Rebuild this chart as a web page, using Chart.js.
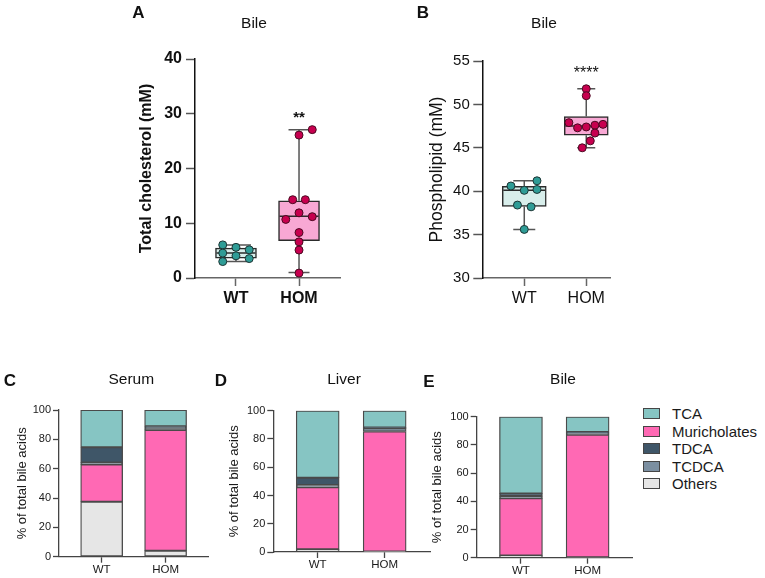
<!DOCTYPE html>
<html>
<head>
<meta charset="utf-8">
<script src="https://cdn.jsdelivr.net/npm/chart.js@4/dist/chart.umd.min.js"></script>
<style>
  body { margin: 0; background: #fff; }
  #figure { position: relative; width: 765px; height: 578px; overflow: hidden; background: #fff; }
  #figure canvas { position: absolute; }
  #legend { position: absolute; left: 643px; top: 405px; font: 15px 'Liberation Sans', Arial, sans-serif; color: #1a1a1a; }
  .legend-row { display: flex; align-items: center; height: 17.5px; }
  .legend-box { width: 15px; height: 9px; border: 1.5px solid #454545; margin-right: 12px; }
</style>
</head>
<body>
<div id="figure">
  <canvas id="chartA" width="250" height="330" style="left:100px;top:0px"></canvas>
  <canvas id="chartB" width="250" height="330" style="left:380px;top:0px"></canvas>
  <canvas id="chartC" width="215" height="238" style="left:0px;top:340px"></canvas>
  <canvas id="chartD" width="230" height="238" style="left:210px;top:340px"></canvas>
  <canvas id="chartE" width="220" height="238" style="left:420px;top:340px"></canvas>
  <div id="legend"></div>
</div>
<script>
const FONT = "'Liberation Sans', Arial, Helvetica, sans-serif";

const groups = ['WT', 'HOM'];

// A - bile total cholesterol (mM), one value per mouse
const cholesterolWT = [6.05, 5.6, 5.15, 4.55, 4.05, 3.55, 3.0];
const cholesterolHOM = [27.1, 26.1, 14.3, 14.3, 11.9, 10.7, 11.2, 8.3, 6.6, 5.1, 0.9];
// min, q1, median, q3, max
const cholesterolWTBox = [3.0, 3.6, 4.55, 5.45, 6.05];
const cholesterolHOMBox = [1.0, 6.8, 11.3, 14.1, 27.1];

// B - bile phospholipid (mM)
const phospholipidWT = [40.6, 41.2, 40.1, 40.2, 38.4, 38.2, 35.6];
const phospholipidHOM = [51.8, 51.0, 47.9, 47.3, 47.4, 47.6, 47.7, 46.7, 45.8, 45.0];
const phospholipidWTBox = [35.6, 38.25, 40.1, 40.55, 41.2];
const phospholipidHOMBox = [45.0, 46.45, 47.5, 48.6, 51.8];

// C-E - % of total bile acids, [WT, HOM] per species
const acids = ['TCA', 'Muricholates', 'TDCA', 'TCDCA', 'Others'];
const serumTCA = [25.4, 11.1];
const serumMuricholates = [25.3, 82.3];
const serumTDCA = [10.3, 1.2];
const serumTCDCA = [1.5, 1.3];
const serumOthers = [37.5, 4.1];

const liverTCA = [47.4, 11.8];
const liverMuricholates = [43.9, 85.0];
const liverTDCA = [5.2, 0.7];
const liverTCDCA = [1.6, 2.2];
const liverOthers = [1.9, 0.3];

const bileTCA = [54.4, 10.9];
const bileMuricholates = [40.6, 86.9];
const bileTDCA = [1.9, 0.7];
const bileTCDCA = [1.6, 1.2];
const bileOthers = [1.5, 0.3];

// horizontal scatter of the dots (x units), layout only
const cholesterolWTJitter = [-0.21, 0, 0.21, -0.21, 0, 0.21, -0.21];
const cholesterolHOMJitter = [0.21, 0, -0.1, 0.1, 0, -0.21, 0.21, 0, 0, 0, 0];
const phospholipidWTJitter = [-0.215, 0.205, 0, 0.205, -0.11, 0.11, 0];
const phospholipidHOMJitter = [0, 0, -0.28, -0.14, 0, 0.14, 0.27, 0.14, 0.065, -0.065];

const acidColors = {
    TCA: '#86c5c3',
    Muricholates: '#ff69b4',
    TDCA: '#3f5668',
    TCDCA: '#7b8fa1',
    Others: '#e6e6e6'
};
// bottom to top inside each bar
const stackOrder = ['Others', 'Muricholates', 'TCDCA', 'TDCA', 'TCA'];

Chart.defaults.font.family = FONT;
Chart.defaults.color = '#1a1a1a';
Chart.defaults.animation = false;
Chart.defaults.events = [];
Chart.defaults.plugins.legend.display = false;
Chart.defaults.plugins.tooltip.enabled = false;

const panelText = {
    id: 'panelText',
    afterDraw(chart, args, opts) {
        const ctx = chart.ctx;
        ctx.save();
        ctx.textAlign = 'center';
        ctx.textBaseline = 'middle';
        ctx.fillStyle = '#111';
        if (opts.letter) {
            ctx.font = 'bold 17px ' + FONT;
            ctx.fillText(opts.letter, opts.letterX, opts.letterY);
        }
        if (opts.title) {
            ctx.font = '15.5px ' + FONT;
            ctx.fillText(opts.title, opts.titleX, opts.titleY);
        }
        if (opts.stars) {
            ctx.font = opts.starsFont;
            ctx.fillText(opts.stars,
                chart.scales.x.getPixelForValue(opts.starsX),
                chart.scales.y.getPixelForValue(opts.starsY));
        }
        ctx.restore();
    }
};

// whiskers and median line, drawn right after the box dataset (under the dots)
const boxWhiskers = {
    id: 'boxWhiskers',
    afterDatasetDraw(chart, args, opts) {
        if (args.index !== 0 || !opts.boxes) return;
        const xs = chart.scales.x;
        const ys = chart.scales.y;
        const ctx = chart.ctx;
        ctx.save();
        ctx.lineWidth = 1.5;
        opts.boxes.forEach(b => {
            const s = b.stats;
            const cx = xs.getPixelForValue(b.x);
            const yMin = ys.getPixelForValue(s[0]);
            const yQ1 = ys.getPixelForValue(s[1]);
            const yMed = ys.getPixelForValue(s[2]);
            const yQ3 = ys.getPixelForValue(s[3]);
            const yMax = ys.getPixelForValue(s[4]);
            const cap = b.capWidth / 2;
            const half = b.boxWidth / 2;
            ctx.strokeStyle = opts.whiskerColor;
            ctx.beginPath();
            ctx.moveTo(cx, yMax); ctx.lineTo(cx, yQ3);
            ctx.moveTo(cx, yQ1); ctx.lineTo(cx, yMin);
            ctx.moveTo(cx - cap, yMax); ctx.lineTo(cx + cap, yMax);
            ctx.moveTo(cx - cap, yMin); ctx.lineTo(cx + cap, yMin);
            ctx.stroke();
            ctx.strokeStyle = opts.medianColor;
            ctx.beginPath();
            ctx.moveTo(cx - half + 1, yMed); ctx.lineTo(cx + half - 1, yMed);
            ctx.stroke();
        });
        ctx.restore();
    }
};

function xTicksAt(positions) {
    return function(scale) {
        scale.ticks = positions.map(v => ({ value: v }));
    };
}

function makeBoxPanel(id, p) {
    const boxes = [
        { x: p.pos[0], stats: p.wtBox, boxWidth: p.boxWidth, capWidth: p.capWidth[0] },
        { x: p.pos[1], stats: p.homBox, boxWidth: p.boxWidth, capWidth: p.capWidth[1] }
    ];
    return new Chart(document.getElementById(id), {
        type: 'bar',
        data: {
            datasets: [
                {
                    data: boxes.map(b => ({ x: b.x, y: [b.stats[1], b.stats[3]] })),
                    backgroundColor: ['#d8eeeb', '#f8a8d4'],
                    borderColor: '#2b2b2b',
                    borderWidth: 1.5,
                    borderSkipped: false,
                    barThickness: p.boxWidth,
                    maxBarThickness: p.boxWidth,
                    grouped: false,
                    order: 1
                },
                {
                    type: 'scatter',
                    data: p.wt.map((v, i) => ({ x: p.pos[0] + p.wtJitter[i], y: v })),
                    pointRadius: 4,
                    pointBackgroundColor: '#2f9c96',
                    pointBorderColor: '#1d3534',
                    pointBorderWidth: 1,
                    order: 0
                },
                {
                    type: 'scatter',
                    data: p.hom.map((v, i) => ({ x: p.pos[1] + p.homJitter[i], y: v })),
                    pointRadius: 4,
                    pointBackgroundColor: '#c7004f',
                    pointBorderColor: '#4a0a22',
                    pointBorderWidth: 1,
                    order: 0
                }
            ]
        },
        options: {
            responsive: false,
            layout: { padding: p.padding },
            scales: {
                x: {
                    type: 'linear',
                    min: 0,
                    max: p.xMax,
                    offset: false,
                    afterBuildTicks: xTicksAt(p.pos),
                    afterFit: s => { s.height = p.xAxisHeight; },
                    ticks: {
                        callback: (v, i) => groups[i],
                        font: p.xFont,
                        color: '#111',
                        padding: 3,
                        autoSkip: false,
                        maxRotation: 0
                    },
                    grid: { drawOnChartArea: false, offset: false, tickLength: 8, color: '#666', tickWidth: 1.5 },
                    border: { color: '#666', width: 1.5 }
                },
                y: {
                    min: p.yMin,
                    max: p.yMax,
                    afterFit: s => { s.width = p.yAxisWidth; },
                    ticks: { stepSize: p.yStep, font: p.yFont, color: '#111', padding: p.yTickPad },
                    grid: { drawOnChartArea: false, tickLength: 9, color: '#555', tickWidth: 1.5 },
                    border: { color: '#111', width: 1.5 },
                    title: {
                        display: true,
                        text: p.yTitle,
                        font: p.yTitleFont,
                        color: '#111',
                        padding: { top: p.yTitlePad, bottom: 0 }
                    }
                }
            },
            plugins: {
                boxWhiskers: { boxes: boxes, whiskerColor: '#555', medianColor: '#2b2b2b' },
                panelText: p.text
            }
        },
        plugins: [boxWhiskers, panelText]
    });
}

function makeStackPanel(id, p) {
    return new Chart(document.getElementById(id), {
        type: 'bar',
        data: {
            datasets: stackOrder.map(name => ({
                label: name,
                data: [
                    { x: p.pos[0], y: p.values[name][0] },
                    { x: p.pos[1], y: p.values[name][1] }
                ],
                backgroundColor: acidColors[name],
                borderColor: '#4a4a4a',
                borderWidth: 1.3,
                borderSkipped: false,
                barThickness: p.barWidth,
                maxBarThickness: p.barWidth,
                grouped: false
            }))
        },
        options: {
            responsive: false,
            layout: { padding: p.padding },
            scales: {
                x: {
                    type: 'linear',
                    min: 0,
                    max: p.xMax,
                    offset: false,
                    afterBuildTicks: xTicksAt(p.pos),
                    afterFit: s => { s.height = p.xAxisHeight; },
                    ticks: {
                        callback: (v, i) => groups[i],
                        font: { size: 11.5 },
                        color: '#1a1a1a',
                        padding: 0,
                        autoSkip: false,
                        maxRotation: 0
                    },
                    grid: { drawOnChartArea: false, offset: false, tickLength: 6, color: '#444', tickWidth: 1.3 },
                    border: { color: '#444', width: 1.3 }
                },
                y: {
                    stacked: true,
                    min: 0,
                    max: 100,
                    afterFit: s => { s.width = p.yAxisWidth; },
                    ticks: { stepSize: 20, font: { size: 11 }, color: '#1a1a1a', padding: 2 },
                    grid: { drawOnChartArea: false, tickLength: 6, color: '#444', tickWidth: 1.3 },
                    border: { color: '#444', width: 1.3 },
                    title: {
                        display: true,
                        text: '% of total bile acids',
                        font: { size: 13 },
                        color: '#1a1a1a',
                        padding: { top: p.yTitlePad, bottom: 0 }
                    }
                }
            },
            plugins: { panelText: p.text }
        },
        plugins: [panelText]
    });
}

function buildLegend() {
    const legend = document.getElementById('legend');
    acids.forEach(name => {
        const row = document.createElement('div');
        row.className = 'legend-row';
        const box = document.createElement('span');
        box.className = 'legend-box';
        box.style.background = acidColors[name];
        const label = document.createElement('span');
        label.textContent = name;
        row.appendChild(box);
        row.appendChild(label);
        legend.appendChild(row);
    });
}

makeBoxPanel('chartA', {
    wt: cholesterolWT, hom: cholesterolHOM,
    wtBox: cholesterolWTBox, homBox: cholesterolHOMBox,
    wtJitter: cholesterolWTJitter, homJitter: cholesterolHOMJitter,
    pos: [0.65, 1.65], xMax: 2.30,
    padding: { top: 59, right: 10, left: 0, bottom: 0 },
    yAxisWidth: 95, xAxisHeight: 52,
    yMin: 0, yMax: 40, yStep: 10, yTickPad: 4,
    yFont: { size: 16, weight: 'bold' },
    xFont: { size: 16, weight: 'bold' },
    yTitle: 'Total cholesterol (mM)',
    yTitleFont: { size: 16, weight: 'bold' },
    yTitlePad: 37.4,
    boxWidth: 41, capWidth: [30, 21],
    text: {
        letter: 'A', letterX: 38.5, letterY: 13,
        title: 'Bile', titleX: 154, titleY: 24,
        stars: '**', starsFont: 'bold 15px ' + FONT, starsX: 1.65, starsY: 29.2
    }
});

makeBoxPanel('chartB', {
    wt: phospholipidWT, hom: phospholipidHOM,
    wtBox: phospholipidWTBox, homBox: phospholipidHOMBox,
    wtJitter: phospholipidWTJitter, homJitter: phospholipidHOMJitter,
    pos: [0.677, 1.677], xMax: 2.06,
    padding: { top: 61, right: 20, left: 0, bottom: 0 },
    yAxisWidth: 102.3, xAxisHeight: 52,
    yMin: 30, yMax: 55, yStep: 5, yTickPad: 3.5,
    yFont: { size: 15 },
    xFont: { size: 16 },
    yTitle: 'Phospholipid (mM)',
    yTitleFont: { size: 17.5 },
    yTitlePad: 46.5,
    boxWidth: 44, capWidth: [22, 18],
    text: {
        letter: 'B', letterX: 43, letterY: 13,
        title: 'Bile', titleX: 164, titleY: 24,
        stars: '****', starsFont: '16px ' + FONT, starsX: 1.677, starsY: 53.55
    }
});

makeStackPanel('chartC', {
    values: { TCA: serumTCA, Muricholates: serumMuricholates, TDCA: serumTDCA, TCDCA: serumTCDCA, Others: serumOthers },
    pos: [0.667, 1.667], xMax: 2.33, barWidth: 42,
    padding: { top: 70, right: 7, left: 0, bottom: 0 },
    yAxisWidth: 59, xAxisHeight: 21.3, yTitlePad: 14.2,
    text: { letter: 'C', letterX: 10, letterY: 41, title: 'Serum', titleX: 131.3, titleY: 40 }
});

makeStackPanel('chartD', {
    values: { TCA: liverTCA, Muricholates: liverMuricholates, TDCA: liverTDCA, TCDCA: liverTCDCA, Others: liverOthers },
    pos: [0.663, 1.663], xMax: 2.34, barWidth: 43,
    padding: { top: 70.7, right: 10, left: 0, bottom: 0 },
    yAxisWidth: 63.3, xAxisHeight: 26, yTitlePad: 16.2,
    text: { letter: 'D', letterX: 11, letterY: 41.7, title: 'Liver', titleX: 134, titleY: 40 }
});

makeStackPanel('chartE', {
    values: { TCA: bileTCA, Muricholates: bileMuricholates, TDCA: bileTDCA, TCDCA: bileTCDCA, Others: bileOthers },
    pos: [0.664, 1.664], xMax: 2.33, barWidth: 43,
    padding: { top: 76.7, right: 8, left: 0, bottom: 0 },
    yAxisWidth: 56.7, xAxisHeight: 20.3, yTitlePad: 9.2,
    text: { letter: 'E', letterX: 9, letterY: 42.7, title: 'Bile', titleX: 143, titleY: 40 }
});

buildLegend();
</script>
</body>
</html>
